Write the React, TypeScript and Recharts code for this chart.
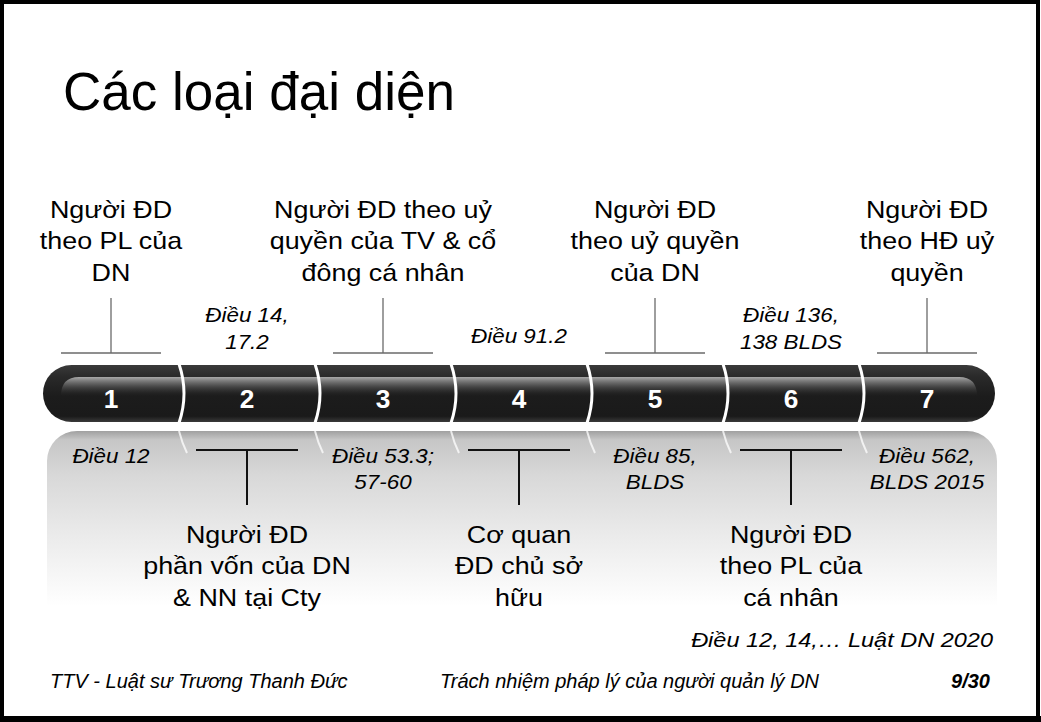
import { BarChart, Bar, XAxis, YAxis, LabelList } from 'recharts';

const steps = ['1', '2', '3', '4', '5', '6', '7'];
const stepSpan = [1, 1, 1, 1, 1, 1, 1];
const roleLines = [
  ['Người ĐD', 'theo PL của', 'DN'],
  ['Người ĐD', 'phần vốn của DN', '& NN tại Cty'],
  ['Người ĐD theo uỷ', 'quyền của TV & cổ', 'đông cá nhân'],
  ['Cơ quan', 'ĐD chủ sở', 'hữu'],
  ['Người ĐD', 'theo uỷ quyền', 'của DN'],
  ['Người ĐD', 'theo PL của', 'cá nhân'],
  ['Người ĐD', 'theo HĐ uỷ', 'quyền'],
];
const articleLines = [
  ['Điều 12'],
  ['Điều 14,', '17.2'],
  ['Điều 53.3;', '57-60'],
  ['Điều 91.2'],
  ['Điều 85,', 'BLDS'],
  ['Điều 136,', '138 BLDS'],
  ['Điều 562,', 'BLDS 2015'],
];
const title = 'Các loại đại diện';
const sourceNote = 'Điều 12, 14,… Luật DN 2020';
const footerLeft = 'TTV - Luật sư Trương Thanh Đức';
const footerCenter = 'Trách nhiệm pháp lý của người quản lý DN';
const pageNo = '9/30';

const data = steps.map((step, i) => ({ step, span: stepSpan[i] }));

const W = 1041;
const H = 722;
const FONT = '"Liberation Sans", Arial, Helvetica, sans-serif';
const SX = 1.12; // slide text is a bit stretched horizontally

const stretch = (cx: number, sx = SX) => `matrix(${sx},0,0,1,${cx * (1 - sx)},0)`;

function Segment(props: any) {
  const { x, y, width: w, height: h } = props;
  const i: number = props.index ?? steps.indexOf(props.payload?.step);
  const last = steps.length - 1;
  const first = i === 0;
  const end = i === last;
  const r = h / 2;
  const x0 = x;
  const x1 = x + w;
  const top = y;
  const bot = y + h;

  let body: string;
  if (first) body = `M${x0 + r},${top} H${x1 + 1} V${bot} H${x0 + r} A${r},${r} 0 0 1 ${x0 + r},${top} Z`;
  else if (end) body = `M${x0},${top} H${x1 - r} A${r},${r} 0 0 1 ${x1 - r},${bot} H${x0} Z`;
  else body = `M${x0},${top} H${x1 + 1} V${bot} H${x0} Z`;

  const hy = top + 12;
  const hh = 19;
  let shine: string;
  if (first) shine = `M${x0 + 18},${hy + hh} Q${x0 + 18},${hy} ${x0 + 36},${hy} H${x1 + 1} V${hy + hh} Z`;
  else if (end) shine = `M${x0},${hy} H${x1 - 36} Q${x1 - 18},${hy} ${x1 - 18},${hy + hh} H${x0} Z`;
  else shine = `M${x0},${hy} H${x1 + 1} V${hy + hh} H${x0} Z`;

  const ry = bot + 9;
  const rh = 175;
  const rr = 30;
  let refl: string;
  if (first) refl = `M${x0 + 4},${ry + rh} V${ry + rr} A${rr},${rr} 0 0 1 ${x0 + 4 + rr},${ry} H${x1 + 1} V${ry + rh} Z`;
  else if (end) refl = `M${x0},${ry} H${x1 + 2 - rr} A${rr},${rr} 0 0 1 ${x1 + 2},${ry + rr} V${ry + rh} H${x0} Z`;
  else refl = `M${x0},${ry} H${x1 + 1} V${ry + rh} H${x0} Z`;

  return (
    <g>
      {first && (
        <defs>
          <linearGradient id="barBase" x1="0" y1="0" x2="0" y2="1">
            <stop offset="0" stopColor="#3a3a3a" />
            <stop offset="0.2" stopColor="#2a2a2a" />
            <stop offset="0.55" stopColor="#1c1c1c" />
            <stop offset="0.9" stopColor="#1a1a1a" />
            <stop offset="1" stopColor="#3a3a3a" />
          </linearGradient>
          <linearGradient id="barShine" x1="0" y1="0" x2="0" y2="1">
            <stop offset="0" stopColor="#a8a8a8" stopOpacity="1" />
            <stop offset="0.4" stopColor="#6a6a6a" stopOpacity="0.75" />
            <stop offset="1" stopColor="#2a2a2a" stopOpacity="0" />
          </linearGradient>
          <linearGradient id="barRefl" x1="0" y1="0" x2="0" y2="1">
            <stop offset="0" stopColor="#a0a0a0" />
            <stop offset="0.05" stopColor="#c6c6c6" />
            <stop offset="0.25" stopColor="#d8d8d8" />
            <stop offset="0.6" stopColor="#ebebeb" />
            <stop offset="1" stopColor="#ffffff" />
          </linearGradient>
        </defs>
      )}
      <path d={refl} fill="url(#barRefl)" />
      <path d={body} fill="url(#barBase)" />
      <path d={shine} fill="url(#barShine)" />
      {!first && (
        <>
          <path d={`M${x0},${top - 1} Q${x0 + 10},${top + h / 2} ${x0},${bot + 1}`} stroke="#ffffff" strokeWidth={3} fill="none" />
          <path d={`M${x0},${ry} Q${x0 + 3},${ry + 12} ${x0 + 8},${ry + 22}`} stroke="#ffffff" strokeOpacity={0.75} strokeWidth={2} fill="none" />
        </>
      )}
    </g>
  );
}

function Annotation(props: any) {
  const { x, y, width: w, height: h, index: i } = props;
  const cx = x + w / 2;
  const top = y;
  const bot = y + h;
  const roleOnTop = i % 2 === 0;
  const roles = roleLines[i];
  const arts = articleLines[i];
  const lh = 31.5;
  const alh = 26.5;

  return (
    <g>
      <text x={cx} y={top + h / 2 + 15} textAnchor="middle" fill="#ffffff" fontFamily={FONT} fontWeight="bold" fontSize={25} transform={stretch(cx, 1.05)}>
        {steps[i]}
      </text>
      {roleOnTop ? (
        <>
          <line x1={cx} y1={top - 67} x2={cx} y2={top - 12} stroke="#6a6a6a" strokeWidth={1.3} />
          <line x1={cx - 50} y1={top - 12} x2={cx + 50} y2={top - 12} stroke="#6a6a6a" strokeWidth={1.3} />
          <text textAnchor="middle" fontFamily={FONT} fontSize={24} fill="#000" transform={stretch(cx)}>
            {roles.map((t, k) => (
              <tspan key={k} x={cx} y={top - 84 - (roles.length - 1 - k) * lh}>{t}</tspan>
            ))}
          </text>
          <text textAnchor="middle" fontFamily={FONT} fontSize={20} fontStyle="italic" fill="#000" transform={stretch(cx)}>
            {arts.map((t, k) => (
              <tspan key={k} x={cx} y={bot + 41 + k * alh}>{t}</tspan>
            ))}
          </text>
        </>
      ) : (
        <>
          <line x1={cx - 51} y1={bot + 28} x2={cx + 51} y2={bot + 28} stroke="#111" strokeWidth={2} />
          <line x1={cx} y1={bot + 28} x2={cx} y2={bot + 83} stroke="#111" strokeWidth={2} />
          <text textAnchor="middle" fontFamily={FONT} fontSize={24} fill="#000" transform={stretch(cx)}>
            {roles.map((t, k) => (
              <tspan key={k} x={cx} y={bot + 121 + k * lh}>{t}</tspan>
            ))}
          </text>
          <text textAnchor="middle" fontFamily={FONT} fontSize={20} fontStyle="italic" fill="#000" transform={stretch(cx)}>
            {arts.map((t, k) => (
              <tspan key={k} x={cx} y={top - 16 - (arts.length - 1 - k) * alh + (arts.length === 1 ? -6 : 0)}>{t}</tspan>
            ))}
          </text>
        </>
      )}
    </g>
  );
}

export default function App() {
  return (
    <div style={{ position: 'absolute', left: 0, top: 0, width: W, height: H, background: '#fff', overflow: 'hidden' }}>
      <BarChart
        width={W}
        height={H}
        data={data}
        margin={{ top: 365, right: 46, bottom: 300, left: 43 }}
        barCategoryGap={0}
        barGap={0}
      >
        <XAxis dataKey="step" hide />
        <YAxis domain={[0, 1]} hide />
        <Bar dataKey="span" isAnimationActive={false} shape={<Segment />}>
          <LabelList dataKey="step" content={<Annotation />} />
        </Bar>
      </BarChart>
      <svg width={W} height={H} style={{ position: 'absolute', left: 0, top: 0, pointerEvents: 'none' }}>
        <text x={63} y={110} fontFamily={FONT} fontSize={53} fill="#000">{title}</text>
        <text x={993} y={647} textAnchor="end" fontFamily={FONT} fontSize={21} fontStyle="italic" fill="#000" transform={stretch(993, 1.12)}>{sourceNote}</text>
        <text x={50} y={688} fontFamily={FONT} fontSize={20} fontStyle="italic" fill="#000">{footerLeft}</text>
        <text x={440} y={688} fontFamily={FONT} fontSize={20} fontStyle="italic" fill="#000">{footerCenter}</text>
        <text x={990} y={688} textAnchor="end" fontFamily={FONT} fontSize={20} fontStyle="italic" fontWeight="bold" fill="#000">{pageNo}</text>
        <rect x={2} y={2} width={W - 5} height={H - 6} fill="none" stroke="#000" strokeWidth={4} />
        <rect x={0} y={H - 6} width={W} height={6} fill="#000" />
      </svg>
    </div>
  );
}
